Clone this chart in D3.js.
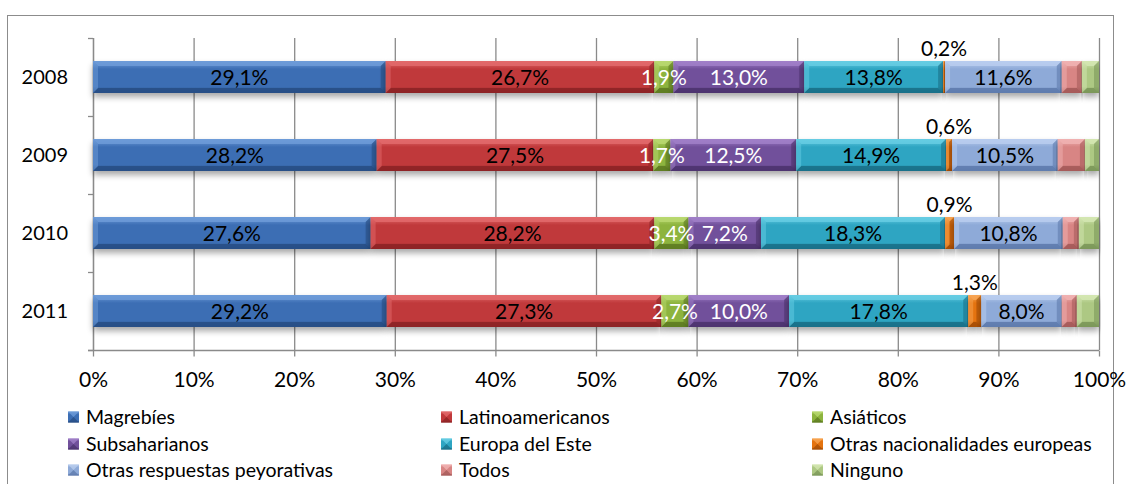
<!DOCTYPE html>
<html>
<head>
<meta charset="utf-8">
<script src="https://cdn.jsdelivr.net/npm/d3@7"></script>
<style>
  html, body { margin: 0; padding: 0; background: #fff; }
  svg { display: block; font-family: "Lato", "Open Sans", sans-serif; }
</style>
</head>
<body>
<svg id="chart" width="1129" height="484"></svg>
<script>
// Percentages of responses by group, per survey year
const years = ["2008", "2009", "2010", "2011"];
const seriesNames = ["Magrebíes", "Latinoamericanos", "Asiáticos", "Subsaharianos",
  "Europa del Este", "Otras nacionalidades europeas", "Otras respuestas peyorativas",
  "Todos", "Ninguno"];
const magrebies        = [29.1, 28.2, 27.6, 29.2];
const latinoamericanos = [26.7, 27.5, 28.2, 27.3];
const asiaticos        = [1.9, 1.7, 3.4, 2.7];
const subsaharianos    = [13.0, 12.5, 7.2, 10.0];
const europaEste       = [13.8, 14.9, 18.3, 17.8];
const otrasEuropeas    = [0.2, 0.6, 0.9, 1.3];
const otrasPeyorativas = [11.6, 10.5, 10.8, 8.0];
const todos            = [2.0, 2.7, 1.6, 1.5];
const ninguno          = [1.7, 1.4, 2.0, 2.2];
const xTickValues = [0, 10, 20, 30, 40, 50, 60, 70, 80, 90, 100];

const seriesValues = [magrebies, latinoamericanos, asiaticos, subsaharianos,
  europaEste, otrasEuropeas, otrasPeyorativas, todos, ninguno];

// colour per series: base, light edge, dark edge
const palette = [
  { base: "#3c6eb4", light: "#6d9bd8", dark: "#284f86" },
  { base: "#c0393b", light: "#e26a6b", dark: "#8e2426" },
  { base: "#8db43e", light: "#b8d870", dark: "#5f7d22" },
  { base: "#71509b", light: "#a07fc8", dark: "#4e3470" },
  { base: "#2ea5c2", light: "#66cde3", dark: "#1a7189" },
  { base: "#e4730f", light: "#f7a553", dark: "#a84f05" },
  { base: "#8eaad8", light: "#b9cdee", dark: "#5f7cae" },
  { base: "#d88584", light: "#f0b2b1", dark: "#a65b5a" },
  { base: "#adc883", light: "#d3e6b2", dark: "#7c985a" }
];
// label placement per series: "in" centred in the segment, "above" over the bar, null none
const labelMode = ["in", "in", "in", "in", "in", "above", "in", null, null];
const labelColor = ["#000", "#000", "#fff", "#fff", "#000", "#000", "#000", "#000", "#000"];

const rows = years.map((y, i) => {
  const r = { year: y };
  seriesNames.forEach((s, k) => { r[s] = seriesValues[k][i]; });
  return r;
});
const stacked = d3.stack().keys(seriesNames)(rows);

const svg = d3.select("#chart");

// outer frame
svg.append("rect").attr("x", 7.5).attr("y", 15.5).attr("width", 1106).attr("height", 500)
  .attr("fill", "none").attr("stroke", "#8c8c8c").attr("stroke-width", 1);

const plot = { left: 93, right: 1099, top: 38, bottom: 350 };
const x = d3.scaleLinear().domain([0, 100]).range([plot.left, plot.right]);
const y = d3.scaleBand().domain(years).range([plot.top, plot.bottom]).paddingInner(0.59).paddingOuter(0.295);

const defs = svg.append("defs");
const shadow = defs.append("filter").attr("id", "shadow").attr("x", "-5%").attr("y", "-50%").attr("width", "110%").attr("height", "200%");
shadow.append("feGaussianBlur").attr("in", "SourceAlpha").attr("stdDeviation", 3);
shadow.append("feOffset").attr("dy", 4).attr("result", "b");
shadow.append("feComponentTransfer").append("feFuncA").attr("type", "linear").attr("slope", 0.35);

palette.forEach((p, k) => {
  const g = defs.append("linearGradient").attr("id", "grad" + k).attr("x1", 0).attr("y1", 0).attr("x2", 0).attr("y2", 1);
  g.append("stop").attr("offset", "0%").attr("stop-color", p.light);
  g.append("stop").attr("offset", "25%").attr("stop-color", p.base);
  g.append("stop").attr("offset", "80%").attr("stop-color", p.base);
  g.append("stop").attr("offset", "100%").attr("stop-color", p.dark);
});

// vertical gridlines
svg.append("g").selectAll("line").data(xTickValues).join("line")
  .attr("x1", d => x(d) + 0.5).attr("x2", d => x(d) + 0.5)
  .attr("y1", plot.top).attr("y2", plot.bottom)
  .attr("stroke", "#8a8a8a").attr("stroke-width", 1.3);

// x axis
const xAxis = svg.append("g").attr("transform", `translate(0,${plot.bottom + 0.5})`)
  .call(d3.axisBottom(x).tickValues(xTickValues).tickFormat(d => d + "%").tickSize(6).tickPadding(16));
xAxis.select(".domain").attr("stroke", "#8a8a8a").attr("stroke-width", 1.3).attr("d", `M${plot.left - 5},0H${plot.right}`);
xAxis.selectAll(".tick line").attr("stroke", "#8a8a8a").attr("stroke-width", 1.3);
xAxis.selectAll(".tick text").attr("fill", "#000").attr("font-size", 21).attr("font-family", "Lato, sans-serif");

// y axis
const bandEdges = years.map(d => y(d) - y.step() * y.paddingInner() / 2).concat([plot.bottom]);
const yAxisG = svg.append("g");
yAxisG.append("line").attr("x1", plot.left + 0.5).attr("x2", plot.left + 0.5)
  .attr("y1", plot.top).attr("y2", plot.bottom).attr("stroke", "#8a8a8a").attr("stroke-width", 1.3);
yAxisG.selectAll("line.t").data(bandEdges).join("line").attr("class", "t")
  .attr("x1", plot.left - 5).attr("x2", plot.left).attr("y1", d => Math.round(d) + 0.5).attr("y2", d => Math.round(d) + 0.5)
  .attr("stroke", "#8a8a8a").attr("stroke-width", 1.3);
yAxisG.selectAll("text").data(years).join("text")
  .attr("x", 68).attr("y", d => y(d) + y.bandwidth() / 2).attr("dy", "0.36em")
  .attr("text-anchor", "end").attr("font-size", 20).text(d => d);

// bars
const barsG = svg.append("g");
stacked.forEach((layer, k) => {
  const p = palette[k];
  layer.forEach((seg, i) => {
    const x0 = x(seg[0]), x1 = x(seg[1]);
    const y0 = y(years[i]), h = y.bandwidth(), y1 = y0 + h;
    const w = x1 - x0;
    const g = barsG.append("g");
    g.append("rect").attr("x", x0).attr("y", y0).attr("width", w).attr("height", h)
      .attr("fill", "#000").attr("filter", "url(#shadow)");
    g.append("rect").attr("x", x0).attr("y", y0).attr("width", w).attr("height", h).attr("fill", `url(#grad${k})`);
    const b = Math.min(5, w / 2, h / 2);
    // bevel faces
    g.append("polygon").attr("points", `${x0},${y0} ${x1},${y0} ${x1 - b},${y0 + b} ${x0 + b},${y0 + b}`)
      .attr("fill", p.light).attr("opacity", 0.85);
    g.append("polygon").attr("points", `${x0},${y1} ${x1},${y1} ${x1 - b},${y1 - b} ${x0 + b},${y1 - b}`)
      .attr("fill", p.dark).attr("opacity", 0.9);
    g.append("polygon").attr("points", `${x0},${y0} ${x0 + b},${y0 + b} ${x0 + b},${y1 - b} ${x0},${y1}`)
      .attr("fill", p.light).attr("opacity", 0.5);
    g.append("polygon").attr("points", `${x1},${y0} ${x1 - b},${y0 + b} ${x1 - b},${y1 - b} ${x1},${y1}`)
      .attr("fill", p.dark).attr("opacity", 0.6);
  });
});

// value labels
const labelsG = svg.append("g").attr("font-size", 21);
stacked.forEach((layer, k) => {
  if (!labelMode[k]) return;
  layer.forEach((seg, i) => {
    const v = seg.data[seriesNames[k]];
    const cx = x((seg[0] + seg[1]) / 2);
    const cy = labelMode[k] === "above" ? y(years[i]) - 13 : y(years[i]) + y.bandwidth() / 2;
    labelsG.append("text").attr("x", cx).attr("y", cy).attr("dy", "0.36em")
      .attr("text-anchor", "middle").attr("fill", labelColor[k])
      .text(d3.format(".1f")(v).replace(".", ",") + "%");
  });
});

// legend, three columns
const legendX = [68, 441, 812];
const legendY = [417, 444, 470];
const legend = svg.append("g").attr("font-size", 19.5);
seriesNames.forEach((s, k) => {
  const cx = legendX[k % 3], cy = legendY[Math.floor(k / 3)];
  const p = palette[k];
  const g = legend.append("g");
  g.append("rect").attr("x", cx).attr("y", cy - 5.5).attr("width", 11).attr("height", 11).attr("fill", `url(#grad${k})`);
  g.append("polygon").attr("points", `${cx},${cy - 5.5} ${cx + 11},${cy - 5.5} ${cx + 5.5},${cy}`).attr("fill", p.light).attr("opacity", 0.8);
  g.append("polygon").attr("points", `${cx},${cy + 5.5} ${cx + 11},${cy + 5.5} ${cx + 5.5},${cy}`).attr("fill", p.dark).attr("opacity", 0.8);
  g.append("text").attr("x", cx + 18).attr("y", cy).attr("dy", "0.36em").text(s);
});
</script>
</body>
</html>
